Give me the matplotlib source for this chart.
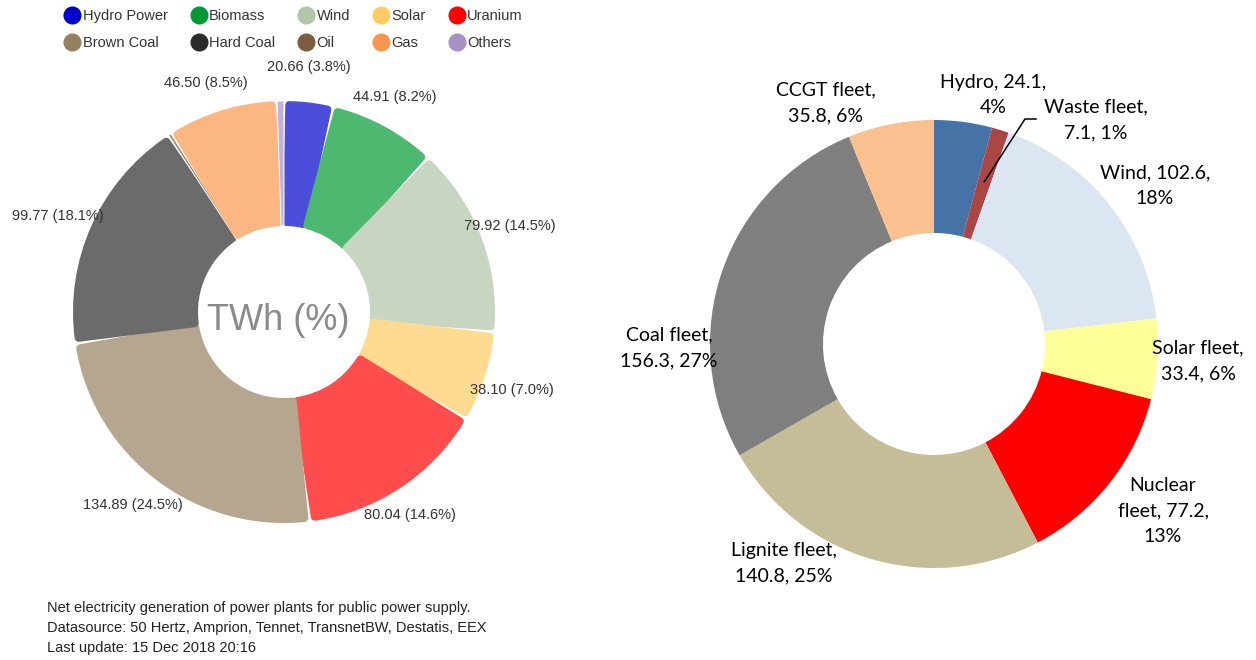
import numpy as np
import matplotlib.pyplot as plt
from matplotlib.colors import to_rgb
from matplotlib.lines import Line2D

W, H = 1256, 660

# left chart: net public generation 2018, TWh
left_names = ['Hydro Power', 'Biomass', 'Wind', 'Solar', 'Uranium',
              'Brown Coal', 'Hard Coal', 'Oil', 'Gas', 'Others']
left_twh = [20.66, 44.91, 79.92, 38.10, 80.04, 134.89, 99.77, 1.2, 46.50, 2.9]
left_pct = [3.8, 8.2, 14.5, 7.0, 14.6, 24.5, 18.1, None, 8.5, None]
left_colors = ['#0000cc', '#009933', '#b1c5a7', '#ffcc63', '#ff0000',
               '#958061', '#2b2b2b', '#7b5c3e', '#f9964d', '#a891c5']
footer = ['Net electricity generation of power plants for public power supply.',
          'Datasource: 50 Hertz, Amprion, Tennet, TransnetBW, Destatis, EEX',
          'Last update: 15 Dec 2018 20:16']

# right chart: generation by fleet, TWh
right_names = ['Hydro', 'Waste fleet', 'Wind', 'Solar fleet', 'Nuclear fleet',
               'Lignite fleet', 'Coal fleet', 'CCGT fleet']
right_twh = [24.1, 7.1, 102.6, 33.4, 77.2, 140.8, 156.3, 35.8]
right_pct = [4, 1, 18, 6, 13, 25, 27, 6]
right_colors = ['#4573a7', '#aa4643', '#dce6f2', '#ffff99', '#ff0000',
                '#c4bd97', '#7f7f7f', '#fac090']
right_breaks = [(2,), (2,), (2,), (2,), (1, 3), (2,), (2,), (2,)]

# label anchors (pixels from top-left)
left_lab_xy = [(309, 67), (395, 97), (510, 226), (512, 390), (410, 515),
               (133, 505), (58, 216), None, (206, 83), None]
right_lab_xy = [(993, 95), (1096, 120), (1155, 186), (1198, 361), (1163, 511),
                (784, 563), (669, 348), (826, 103)]


def light(c, a=0.7):
    rgb = np.array(to_rgb(c))
    return tuple(a * rgb + (1 - a))


def round_corners(wedges, colors, rad=4.0, gap=2.0):
    # shrink each wedge and stroke it in its own colour with round joins
    for w, c in zip(wedges, colors):
        r_ref = w.r - 15
        arc = np.deg2rad(w.theta2 - w.theta1) * (w.r - w.width / 2)
        if arc < 4 * rad + gap:
            w.set_edgecolor('white')
            w.set_linewidth(0.7)
            continue
        d = np.rad2deg((rad + gap / 2) / r_ref)
        w.set_theta1(w.theta1 + d)
        w.set_theta2(w.theta2 - d)
        w.set_radius(w.r - rad)
        w.set_width(w.width - 2 * rad)
        w.set_edgecolor(c)
        w.set_linewidth(2 * rad * 72 / 100)
        w.set_joinstyle('round')


fig = plt.figure(figsize=(W / 100, H / 100), dpi=100)
ax = fig.add_axes([0, 0, 1, 1])

# ---- left donut
lcols = [light(c) for c in left_colors]
lw_, _ = ax.pie(left_twh, colors=lcols, startangle=90, counterclock=False,
                center=(284, H - 312), radius=211,
                wedgeprops=dict(width=125, linewidth=0))
round_corners(lw_, lcols)

for v, p, xy in zip(left_twh, left_pct, left_lab_xy):
    if xy is None:
        continue
    ax.text(xy[0], H - xy[1], f'{v:.2f} ({p:.1f}%)', ha='center', va='center',
            fontsize=10.5, family='Liberation Sans', color='#333333')

ax.text(278, H - 320, 'TWh (%)', ha='center', va='center', fontsize=26,
        family='Liberation Sans', color='#8a8a8a')

for i, line in enumerate(footer):
    ax.text(47, H - (608 + 20 * i), line, ha='left', va='center', fontsize=10.5,
            family='Liberation Sans', color='#222222')

# legend, filled row by row
handles = [Line2D([], [], ls='', marker='o', markersize=12, color=c,
                  label=n) for n, c in zip(left_names, left_colors)]
order = [0, 5, 1, 6, 2, 7, 3, 8, 4, 9]
fig.legend([handles[i] for i in order], [left_names[i] for i in order],
           ncol=5, loc='upper left', bbox_to_anchor=(65 / W, 1 - 9 / H),
           frameon=False, borderpad=0, borderaxespad=0, handlelength=1.0,
           handletextpad=0.22, columnspacing=1.62, labelspacing=0.9,
           prop=dict(family='Liberation Sans', size=10.5), labelcolor='#333333')

# ---- right donut
rw_, _ = ax.pie(right_twh, colors=right_colors, startangle=90, counterclock=False,
                center=(934, H - 344), radius=224,
                wedgeprops=dict(width=113, linewidth=0))

for n, v, p, br, xy in zip(right_names, right_twh, right_pct, right_breaks, right_lab_xy):
    words = f'{n}, {v}, {p}%'.split(' ')
    lines, start = [], 0
    for b in br + (len(words),):
        lines.append(' '.join(words[start:b]))
        start = b
    ax.text(xy[0], H - xy[1], '\n'.join(lines), ha='center', va='center',
            multialignment='center', fontsize=14, family='Lato',
            color='black', linespacing=1.62)

# leader line for the waste slice
wst = rw_[1]
mid = np.deg2rad((wst.theta1 + wst.theta2) / 2)
x0, y0 = 934 + 170 * np.cos(mid), H - 344 + 170 * np.sin(mid)
ax.plot([x0, 1025, 1036], [y0, H - 119, H - 119], color='black', lw=1.1)

ax.set_xlim(0, W)
ax.set_ylim(0, H)
ax.set_aspect('equal')
ax.axis('off')

fig.savefig('out.png', dpi=100)
